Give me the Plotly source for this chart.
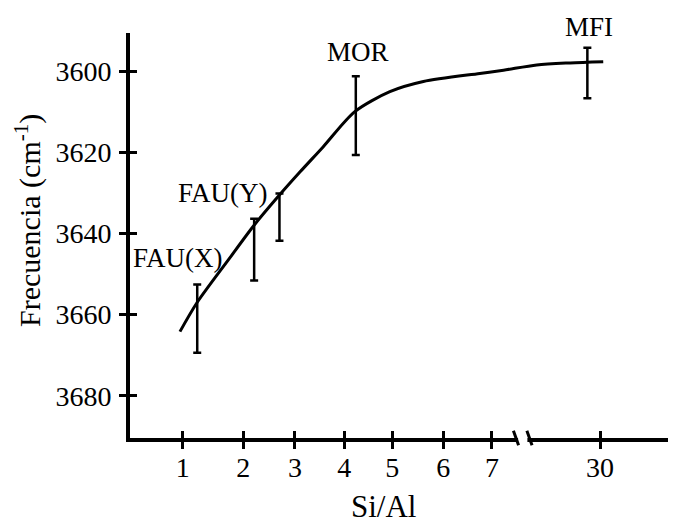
import numpy as np
import plotly.graph_objects as go

# ---------------- data ----------------
# smooth trend curve: Si/Al ratio vs OH stretching frequency (cm-1)
curve_sial = [0.955, 1.23, 1.75, 2.19, 2.67, 3.10, 3.57, 4.22, 4.95, 5.61, 6.75, 7.24, 27.25, 28.7, 30.14]
curve_freq = [3664.2, 3657.2, 3646.6, 3638.3, 3631.0, 3624.9, 3618.7, 3610.0, 3605.1, 3602.6, 3600.6, 3599.8, 3598.5, 3598.0, 3597.7]

# measured zeolites with error bars
point_sial = [1.24, 2.21, 2.70, 4.24, 29.45]
point_freq = [3661.0, 3644.0, 3636.0, 3611.0, 3600.5]
point_err = [8.4, 7.6, 5.8, 9.7, 6.2]

# zeolite labels
label_text = ["FAU(X)", "FAU(Y)", "MOR", "MFI"]
label_sial = [0.92, 1.665, 4.285, 29.5]
label_freq = [3646.0, 3630.0, 3595.3, 3589.2]

# ticks
x_tick_values = [1, 2, 3, 4, 5, 6, 7, 30]
x_tick_labels = ["1", "2", "3", "4", "5", "6", "7", "30"]
y_tick_values = [3600, 3620, 3640, 3660, 3680]

# broken x axis: Si/Al value -> axis position (hand-drawn scale, break between 7.5 and 27)
axis_sial_knots = [0, 1, 2, 3, 4, 5, 6, 7, 7.5, 27, 30, 40]
axis_pos_knots = [-0.176, 1.0, 2.176, 3.178, 4.135, 5.066, 6.055, 7.0, 7.466, 7.757, 9.096, 13.56]
BREAK_LO, BREAK_HI = 7.5, 27


def to_pos(v):
    return np.interp(np.asarray(v, dtype=float), axis_sial_knots, axis_pos_knots)


FONT = "Liberation Serif"
X_RANGE = [-0.022, 10.57]
Y_RANGE = [3690.4, 3590.64]


def paper_y(f):
    return (Y_RANGE[0] - f) / (Y_RANGE[0] - Y_RANGE[1])


fig = go.Figure()

fig.add_trace(go.Scatter(
    x=to_pos(curve_sial), y=curve_freq, mode="lines",
    line=dict(color="black", width=3, shape="spline", smoothing=0.8),
    hoverinfo="skip", showlegend=False, cliponaxis=False,
))

fig.add_trace(go.Scatter(
    x=to_pos(point_sial), y=point_freq, mode="markers",
    marker=dict(size=1, color="rgba(0,0,0,0)"),
    error_y=dict(type="data", array=point_err, visible=True,
                 color="black", thickness=2.5, width=4),
    showlegend=False,
))

# invisible trace for the overlay axes (inner half of crossing ticks)
fig.add_trace(go.Scatter(x=[X_RANGE[0]], y=[Y_RANGE[0]], xaxis="x2", yaxis="y2",
                         mode="markers", marker=dict(size=1, color="rgba(0,0,0,0)"),
                         showlegend=False, hoverinfo="skip"))

tickfont = dict(family=FONT, size=28, color="black")

fig.update_layout(
    width=668, height=511,
    margin=dict(l=122, r=0, t=25, b=81),
    paper_bgcolor="white", plot_bgcolor="white",
    showlegend=False,
    xaxis=dict(range=X_RANGE, showgrid=False, zeroline=False,
               showline=True, linecolor="black", linewidth=4,
               ticks="outside", ticklen=7, tickwidth=2.5, tickcolor="black",
               tickvals=list(to_pos(x_tick_values)), ticktext=x_tick_labels,
               tickfont=tickfont, ticklabelstandoff=-6),
    yaxis=dict(range=Y_RANGE, showgrid=False, zeroline=False,
               showline=True, linecolor="black", linewidth=4,
               ticks="outside", ticklen=7, tickwidth=2.5, tickcolor="black",
               tickvals=y_tick_values, tickfont=tickfont, ticklabelstandoff=2),
    xaxis2=dict(overlaying="x", anchor="y2", side="bottom", range=X_RANGE,
                showgrid=False, zeroline=False, showline=False,
                ticks="inside", ticklen=7, tickwidth=2.5, tickcolor="black",
                tickvals=list(to_pos(x_tick_values)), showticklabels=False),
    yaxis2=dict(overlaying="y", anchor="x2", side="left", range=Y_RANGE,
                showgrid=False, zeroline=False, showline=False,
                ticks="inside", ticklen=7, tickwidth=2.5, tickcolor="black",
                tickvals=y_tick_values, showticklabels=False),
)

# zeolite labels
for t, sx, fy in zip(label_text, label_sial, label_freq):
    fig.add_annotation(x=float(to_pos(sx)), xref="x", y=paper_y(fy), yref="paper",
                       text=t, showarrow=False, xanchor="center", yanchor="middle",
                       font=dict(family=FONT, size=27, color="black"))

# axis titles
fig.add_annotation(xref="paper", yref="paper", x=0.465, y=-0.170,
                   text="Si/Al", showarrow=False, xanchor="center", yanchor="middle",
                   font=dict(family=FONT, size=31, color="black"))
fig.add_annotation(xref="paper", yref="paper", x=-0.187, y=0.538,
                   text="Frecuencia (cm<sup>-1</sup>)", showarrow=False, textangle=-90,
                   xanchor="center", yanchor="middle",
                   font=dict(family=FONT, size=30, color="black"))

# axis break marks
b_lo = float(to_pos(BREAK_LO))
b_hi = float(to_pos(BREAK_HI)) - 0.03
fig.add_shape(type="rect", xref="x", yref="paper", x0=b_lo + 0.04, x1=b_hi - 0.04,
              y0=-0.012, y1=0.012, fillcolor="white", line=dict(width=0), layer="above")
for bx in (b_lo, b_hi):
    fig.add_shape(type="line", xref="x", yref="paper",
                  x0=bx - 0.05, x1=bx + 0.05, y0=0.018, y1=-0.018,
                  line=dict(color="black", width=3), layer="above")

fig.write_html("out.html")
